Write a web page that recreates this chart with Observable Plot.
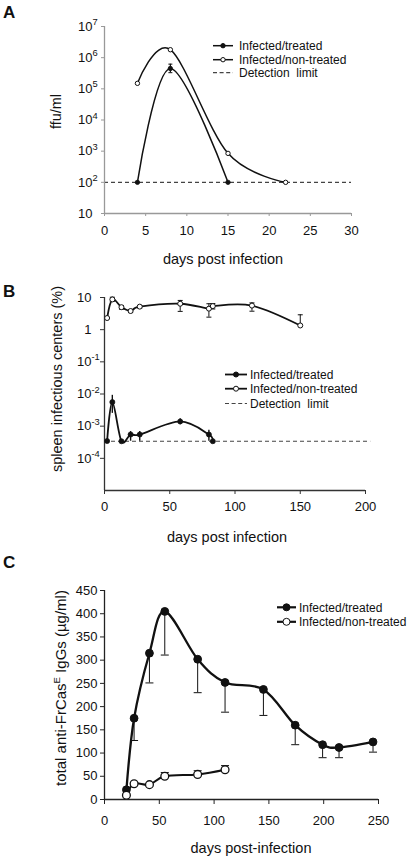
<!DOCTYPE html>
<html><head><meta charset="utf-8">
<script src="https://cdn.jsdelivr.net/npm/d3@7"></script>
<script src="https://cdn.jsdelivr.net/npm/@observablehq/plot@0.6"></script>
<style>
html,body{margin:0;padding:0;background:#fff;}
#page{position:relative;width:408px;height:861px;overflow:hidden;background:#fff;}
</style></head><body><div id="page"></div>
<script>
// ---------- Panel A : ffu/ml (log) ----------
const daysATreated = [4, 8, 15];
const ffuTreated   = [100, 450000, 100];
const ffuTreatedLo = [null, 330000, null];
const ffuTreatedHi = [null, 620000, null];
const daysANon     = [4, 8, 15, 22];
const ffuNon       = [150000, 1800000, 850, 100];
const detectionA   = 100;
const detectionSpanA = [0, 30];
const ticksAX = [0, 5, 10, 15, 20, 25, 30];
const ticksAY = [10, 1e2, 1e3, 1e4, 1e5, 1e6, 1e7];

// ---------- Panel B : spleen infectious centers (%) (log) ----------
const daysBNon   = [2, 6, 13, 20, 27, 58, 80, 83, 113, 150];
const pctNon     = [2.3, 8.7, 5.0, 3.8, 5.2, 6.4, 4.5, 5.4, 5.6, 1.35];
const pctNonLo   = [null, 7.5, 4.3, 3.4, 4.7, 3.7, 2.45, 4.4, 3.75, null];
const pctNonHi   = [null, 10.2, 5.6, 4.2, 5.6, 8.1, 6.4, 6.5, 6.8, 2.9];
const daysBTreated = [2, 6, 13, 20, 27, 58, 80, 83];
const pctTreated   = [3.45e-4, 5.6e-3, 3.4e-4, 5.5e-4, 5.5e-4, 1.4e-3, 5.5e-4, 3.4e-4];
const pctTreatedLo = [null, 2.5e-3, null, 3.4e-4, 3.4e-4, 1.1e-3, 3.4e-4, null];
const pctTreatedHi = [null, 9.1e-3, null, 6.8e-4, 6.8e-4, 1.7e-3, 7.5e-4, null];
const detectionB   = 3.4e-4;
const detectionSpanB = [0, 204];
const ticksBX = [0, 50, 100, 150, 200];
const ticksBY = [1e-4, 1e-3, 1e-2, 1e-1, 1, 10];

// ---------- Panel C : total anti-FrCasE IgGs (µg/ml) ----------
const daysCTreated = [20, 27, 41, 55, 85, 110, 145, 174, 199, 214, 245];
const iggTreated   = [21, 175, 315, 405, 302, 252, 237, 160, 118, 112, 124];
const iggTreatedLo = [null, 127, 251, 311, 230, 188, 181, 118, 90, 90, 102];
const daysCNon     = [20, 27, 41, 55, 85, 110];
const iggNon       = [9, 34, 32, 50, 54, 64];
const iggNonHi     = [null, null, null, 58, 62, 73];
const ticksCX = [0, 50, 100, 150, 200, 250];
const ticksCY = [0, 50, 100, 150, 200, 250, 300, 350, 400, 450];

const legendLabels = ["Infected/treated", "Infected/non-treated", "Detection  limit"];

// ---------- helpers ----------
const font = '"Liberation Sans", Arial, Helvetica, sans-serif';
const ink = "#111";
const rows = (days, v, lo, hi) => days.map((d, i) => ({day: d, v: v[i], lo: lo ? lo[i] : null, hi: hi ? hi[i] : null}));
const capSymbol = {draw(ctx, size) { const w = Math.sqrt(size / Math.PI); ctx.moveTo(-w, 0); ctx.lineTo(w, 0); }};
const fmtPow = d => { const e = Math.round(Math.log10(d)); return e === 0 ? "1" : e === 1 ? "10" : "10^" + e; };
const baseStyle = top => ({position: "absolute", left: "0px", top: top + "px", overflow: "visible",
  fontFamily: font, fontSize: "13px", background: "transparent", color: ink});

function errorMarks(data, {lo = true, hi = true, capLo = true, capHi = true, capR = 3, sw = 1}) {
  const marks = [];
  const dLo = data.filter(d => d.lo != null), dHi = data.filter(d => d.hi != null);
  if (lo) marks.push(Plot.ruleX(dLo, {x: "day", y1: "v", y2: "lo", stroke: ink, strokeWidth: sw}));
  if (hi) marks.push(Plot.ruleX(dHi, {x: "day", y1: "v", y2: "hi", stroke: ink, strokeWidth: sw}));
  if (lo && capLo) marks.push(Plot.dot(dLo, {x: "day", y: "lo", symbol: capSymbol, r: capR, fill: "none", stroke: ink, strokeWidth: 1}));
  if (hi && capHi) marks.push(Plot.dot(dHi, {x: "day", y: "hi", symbol: capSymbol, r: capR, fill: "none", stroke: ink, strokeWidth: 1}));
  return marks;
}

function supify(svg) {
  svg.querySelectorAll("text").forEach(t => {
    const s = t.textContent;
    if (!s.includes("^")) return;
    const [b, e] = s.split("^");
    t.textContent = b;
    const ts = document.createElementNS("http://www.w3.org/2000/svg", "tspan");
    ts.setAttribute("x", t.getAttribute("x") || 0);
    ts.setAttribute("text-anchor", "start");
    ts.setAttribute("dy", "-0.6em");
    ts.setAttribute("font-size", "0.72em");
    ts.textContent = e;
    t.appendChild(ts);
  });
  return svg;
}

const page = document.getElementById("page");

// ---------- Plot A ----------
const aTreated = rows(daysATreated, ffuTreated, ffuTreatedLo, ffuTreatedHi);
const aNon = rows(daysANon, ffuNon);
const plotA = Plot.plot({
  width: 408, height: 240,
  marginTop: 26, marginBottom: 27, marginLeft: 104, marginRight: 57,
  x: {domain: [0, 30]},
  y: {type: "log", domain: [10, 1e7]},
  style: baseStyle(0),
  marks: [
    Plot.ruleY([{y: detectionA, x1: detectionSpanA[0], x2: detectionSpanA[1]}], {y: "y", x1: "x1", x2: "x2", stroke: "#444", strokeWidth: 1.2, strokeDasharray: "4,3"}),
    Plot.ruleX([0], {stroke: "#999", strokeWidth: 1.3}),
    Plot.ruleY([10], {stroke: "#999", strokeWidth: 1.3}),
    Plot.axisX({ticks: ticksAX, tickSize: 3, tickPadding: 9, stroke: "#999", fill: ink, label: null}),
    Plot.axisY({ticks: ticksAY, tickFormat: fmtPow, tickSize: 3, tickPadding: 9, stroke: "#999", fill: ink, label: null}),
    Plot.line(aNon, {x: "day", y: "v", curve: "cardinal", stroke: ink, strokeWidth: 1.5}),
    Plot.line(aTreated, {x: "day", y: "v", curve: "cardinal", stroke: ink, strokeWidth: 1.5}),
    ...errorMarks(aTreated, {capR: 2, sw: 1.2}),
    Plot.dot(aTreated, {x: "day", y: "v", r: 2.2, fill: ink, stroke: ink, strokeWidth: 0.8}),
    Plot.dot(aNon, {x: "day", y: "v", r: 2.2, fill: "white", stroke: ink, strokeWidth: 1})
  ]
});
page.appendChild(supify(plotA));

// ---------- Plot B ----------
const bTreated = rows(daysBTreated, pctTreated, pctTreatedLo, pctTreatedHi);
const bNon = rows(daysBNon, pctNon, pctNonLo, pctNonHi);
const plotB = Plot.plot({
  width: 408, height: 235,
  marginTop: 17, marginBottom: 25, marginLeft: 104, marginRight: 43,
  x: {domain: [0, 200]},
  y: {type: "log", domain: [1e-5, 10]},
  style: baseStyle(280),
  marks: [
    Plot.ruleY([{y: detectionB, x1: detectionSpanB[0], x2: detectionSpanB[1]}], {y: "y", x1: "x1", x2: "x2", stroke: "#444", strokeWidth: 1.2, strokeDasharray: "4,3"}),
    Plot.ruleX([0], {stroke: "#333", strokeWidth: 1.3}),
    Plot.ruleY([1e-5], {stroke: "#333", strokeWidth: 1.3}),
    Plot.axisX({ticks: ticksBX, tickSize: 4, tickPadding: 7, stroke: "#333", fill: ink, label: null}),
    Plot.axisY({ticks: ticksBY, tickFormat: fmtPow, tickSize: 4, tickPadding: 9, stroke: "#333", fill: ink, label: null}),
    Plot.line(bNon, {x: "day", y: "v", curve: "cardinal", stroke: ink, strokeWidth: 1.8}),
    Plot.line(bTreated, {x: "day", y: "v", curve: "cardinal", stroke: ink, strokeWidth: 1.8}),
    ...errorMarks(bNon, {capR: 2.5, sw: 1}),
    ...errorMarks(bTreated, {capLo: false, capHi: false, sw: 1.4}),
    Plot.dot(bTreated, {x: "day", y: "v", r: 2.5, fill: ink, stroke: ink, strokeWidth: 0.8}),
    Plot.dot(bNon, {x: "day", y: "v", r: 2.5, fill: "white", stroke: ink, strokeWidth: 1})
  ]
});
page.appendChild(supify(plotB));

// ---------- Plot C ----------
const cTreated = rows(daysCTreated, iggTreated, iggTreatedLo, null);
const cNon = rows(daysCNon, iggNon, null, iggNonHi);
const plotC = Plot.plot({
  width: 408, height: 275,
  marginTop: 30, marginBottom: 36, marginLeft: 104, marginRight: 30,
  x: {domain: [0, 250]},
  y: {domain: [0, 450]},
  style: baseStyle(560),
  marks: [
    Plot.ruleX([0], {stroke: "#222", strokeWidth: 1.3}),
    Plot.ruleY([0], {stroke: "#222", strokeWidth: 1.3}),
    Plot.axisX({ticks: ticksCX, tickSize: 5, tickPadding: 11, stroke: "#222", fill: ink, label: null}),
    Plot.axisY({ticks: ticksCY, tickSize: 4, tickPadding: 3, stroke: "#222", fill: ink, label: null}),
    ...errorMarks(cTreated, {hi: false, capR: 4, sw: 1}),
    ...errorMarks(cNon, {lo: false, capR: 4, sw: 1}),
    Plot.line(cTreated, {x: "day", y: "v", curve: "cardinal", stroke: ink, strokeWidth: 2.3}),
    Plot.line(cNon, {x: "day", y: "v", curve: "cardinal", stroke: ink, strokeWidth: 2}),
    Plot.dot(cTreated, {x: "day", y: "v", r: 3.9, fill: ink, stroke: ink, strokeWidth: 1}),
    Plot.dot(cNon, {x: "day", y: "v", r: 3.9, fill: "white", stroke: ink, strokeWidth: 1.3})
  ]
});
page.appendChild(plotC);

// ---------- text overlay: panel letters, axis titles, legends ----------
const ov = d3.create("svg").attr("width", 408).attr("height", 861)
  .style("position", "absolute").style("left", "0px").style("top", "0px")
  .style("font-family", font).style("overflow", "visible");

[["A", 18], ["B", 297], ["C", 568]].forEach(([t, y]) =>
  ov.append("text").attr("x", 3).attr("y", y).attr("font-weight", "bold").attr("font-size", 17).attr("fill", ink).text(t));

[["days post infection", 223, 264], ["days post infection", 227, 542], ["days post-infection", 251, 853]].forEach(([t, x, y]) =>
  ov.append("text").attr("x", x).attr("y", y).attr("text-anchor", "middle").attr("font-size", 14.5).attr("fill", ink).text(t));

ov.append("text").attr("transform", "translate(61,111.5) rotate(-90)").attr("text-anchor", "middle")
  .attr("font-size", 14.5).attr("fill", ink).text("ffu/ml");
ov.append("text").attr("transform", "translate(62,379) rotate(-90)").attr("text-anchor", "middle")
  .attr("font-size", 14.5).attr("fill", ink).text("spleen infectious centers (%)");
const yc = ov.append("text").attr("transform", "translate(66,688) rotate(-90)").attr("text-anchor", "middle")
  .attr("font-size", 15).attr("fill", ink);
yc.append("tspan").text("total anti-FrCas");
yc.append("tspan").attr("font-size", 9.5).attr("dy", -6).text("E");
yc.append("tspan").attr("dy", 6).text(" IgGs (µg/ml)");

function legend(x0, x1, tx, ys, items, {sw, r}) {
  items.forEach((kind, i) => {
    const y = ys[i];
    const g = ov.append("g");
    if (kind === "dash") {
      g.append("line").attr("x1", x0).attr("x2", x1).attr("y1", y).attr("y2", y)
        .attr("stroke", "#444").attr("stroke-width", 1.2).attr("stroke-dasharray", "4,2.6");
    } else {
      g.append("line").attr("x1", x0).attr("x2", x1).attr("y1", y).attr("y2", y)
        .attr("stroke", ink).attr("stroke-width", sw);
      g.append("circle").attr("cx", (x0 + x1) / 2).attr("cy", y).attr("r", r)
        .attr("fill", kind === "filled" ? ink : "white").attr("stroke", ink).attr("stroke-width", 1);
    }
    g.append("text").attr("x", tx).attr("y", y + 4.3).attr("font-size", 12).attr("fill", ink)
      .style("white-space", "pre").text(legendLabels[i]);
  });
}
legend(213, 233, 239, [45.7, 59.7, 72.7], ["filled", "open", "dash"], {sw: 1.5, r: 2.2});
legend(225, 247, 250, [374.5, 388.7, 403.5], ["filled", "open", "dash"], {sw: 1.8, r: 2.5});
legend(277, 296, 299, [607.3, 621.8], ["filled", "open"], {sw: 2.2, r: 3.5});

page.appendChild(ov.node());
</script></body></html>
